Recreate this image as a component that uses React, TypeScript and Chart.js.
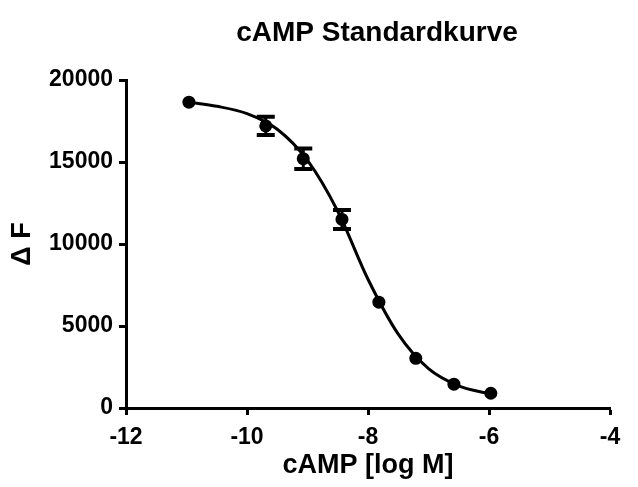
import React, { useEffect, useRef } from "react";
import { Chart, registerables } from "chart.js";

Chart.register(...registerables);

const chartTitle = "cAMP Standardkurve";
const xAxisTitle = "cAMP [log M]";
const yAxisTitle = "\u0394 F";

const logConc = [-10.96, -9.69, -9.07, -8.43, -7.82, -7.21, -6.58, -5.97];
const meanDeltaF = [18650, 17200, 15200, 11500, 6450, 3030, 1450, 900];
const semDeltaF = [200, 560, 630, 580, 250, 200, 150, 120];

const curveX = [-10.96, -10.5, -10, -9.5, -9, -8.5, -8, -7.5, -7, -6.5, -5.97];
const curveY = [18650, 18400, 17950, 17000, 15100, 12000, 7850, 4500, 2400, 1350, 850];

const xTicks = [-12, -10, -8, -6, -4];
const yTicks = [0, 5000, 10000, 15000, 20000];

const FONT = "'Liberation Sans', Arial, sans-serif";
const MARKER_R = 6.5;

export default function App() {
  const ref = useRef<HTMLCanvasElement | null>(null);

  useEffect(() => {
    document.body.style.margin = "0";
    const canvas = ref.current;
    if (!canvas) return;

    const errorBars = {
      id: "errorBars",
      beforeDatasetsDraw(chart: any) {
        const ctx = chart.ctx;
        const xs = chart.scales.x;
        const ys = chart.scales.y;
        ctx.save();
        ctx.strokeStyle = "#000";
        logConc.forEach((lx, i) => {
          const px = xs.getPixelForValue(lx);
          const top = ys.getPixelForValue(meanDeltaF[i] + semDeltaF[i]);
          const bot = ys.getPixelForValue(meanDeltaF[i] - semDeltaF[i]);
          // error bars shorter than the symbol are hidden by it
          if ((bot - top) / 2 <= MARKER_R + 1) return;
          ctx.lineWidth = 3;
          ctx.beginPath();
          ctx.moveTo(px, top);
          ctx.lineTo(px, bot);
          ctx.stroke();
          ctx.lineWidth = 4;
          ctx.beginPath();
          ctx.moveTo(px - 9, top);
          ctx.lineTo(px + 9, top);
          ctx.moveTo(px - 9, bot);
          ctx.lineTo(px + 9, bot);
          ctx.stroke();
        });
        ctx.restore();
      },
    };

    const titlePlugin = {
      id: "customTitle",
      afterDraw(chart: any) {
        const ctx = chart.ctx;
        const area = chart.chartArea;
        ctx.save();
        ctx.fillStyle = "#000";
        ctx.font = `bold 28px ${FONT}`;
        ctx.textAlign = "center";
        ctx.textBaseline = "middle";
        ctx.fillText(chartTitle, (area.left + area.right) / 2 + 9, 33);
        ctx.restore();
      },
    };

    const chart = new Chart(canvas, {
      type: "scatter",
      data: {
        datasets: [
          {
            label: "means",
            data: logConc.map((x, i) => ({ x, y: meanDeltaF[i] })),
            showLine: false,
            pointRadius: MARKER_R,
            pointHoverRadius: MARKER_R,
            pointBackgroundColor: "#000",
            pointBorderColor: "#000",
            pointBorderWidth: 0,
          },
          {
            label: "fit",
            data: curveX.map((x, i) => ({ x, y: curveY[i] })),
            showLine: true,
            borderColor: "#000",
            borderWidth: 3,
            pointRadius: 0,
            pointHoverRadius: 0,
            cubicInterpolationMode: "monotone",
            fill: false,
          },
        ],
      },
      options: {
        animation: false,
        responsive: false,
        devicePixelRatio: 1,
        layout: { padding: { top: 80, right: 28, left: 0, bottom: 0 } },
        plugins: {
          legend: { display: false },
          tooltip: { enabled: false },
          title: { display: false },
        },
        scales: {
          x: {
            type: "linear",
            min: -12,
            max: -4,
            afterBuildTicks: (s: any) => {
              s.ticks = xTicks.map((v) => ({ value: v }));
            },
            afterFit: (s: any) => {
              s.height = 79;
            },
            grid: {
              display: true,
              drawOnChartArea: false,
              drawTicks: true,
              tickLength: 7,
              tickWidth: 3,
              tickColor: "#000",
            },
            border: { display: true, color: "#000", width: 3 },
            ticks: {
              color: "#000",
              padding: 9,
              font: { family: FONT, size: 23, weight: "bold" },
              maxRotation: 0,
              callback: (v: any) => String(v),
            },
            title: {
              display: true,
              text: xAxisTitle,
              color: "#000",
              font: { family: FONT, size: 27, weight: "bold" },
              padding: { top: 0, bottom: 5 },
            },
          },
          y: {
            type: "linear",
            min: 0,
            max: 20000,
            afterBuildTicks: (s: any) => {
              s.ticks = yTicks.map((v) => ({ value: v }));
            },
            afterFit: (s: any) => {
              s.width = 126;
            },
            grid: {
              display: true,
              drawOnChartArea: false,
              drawTicks: true,
              tickLength: 7,
              tickWidth: 3,
              tickColor: "#000",
            },
            border: { display: true, color: "#000", width: 3 },
            ticks: {
              color: "#000",
              padding: 6,
              font: { family: FONT, size: 23, weight: "bold" },
              callback: (v: any) => String(v),
            },
            title: {
              display: true,
              text: yAxisTitle,
              color: "#000",
              font: { family: FONT, size: 27, weight: "bold" },
              padding: { top: 6, bottom: 0 },
            },
          },
        },
      },
      plugins: [errorBars, titlePlugin],
    });

    return () => chart.destroy();
  }, []);

  return (
    <div style={{ width: 638, height: 487 }}>
      <canvas ref={ref} width={638} height={487} style={{ display: "block", width: 638, height: 487 }} />
    </div>
  );
}
